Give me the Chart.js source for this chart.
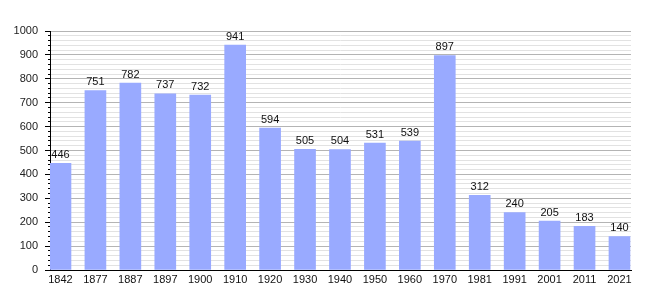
<!DOCTYPE html>
<html>
<head>
<meta charset="utf-8">
<script src="https://cdn.jsdelivr.net/npm/chart.js@4"></script>
<style>
  html, body { margin: 0; padding: 0; background: #fff; }
  #wrap { width: 660px; height: 300px; }
</style>
</head>
<body>
<div id="wrap"><canvas id="pop" width="660" height="300"></canvas></div>
<script>
// population by census year
const years = ['1842','1877','1887','1897','1900','1910','1920','1930','1940','1950','1960','1970','1981','1991','2001','2011','2021'];
const population = [446, 751, 782, 737, 732, 941, 594, 505, 504, 531, 539, 897, 312, 240, 205, 183, 140];
const yMin = 0, yMax = 1000, yStep = 100, yMinorStep = 20;

const FONT = 'Liberation Sans, Arial, sans-serif';

// value labels above each bar
const barValues = {
  id: 'barValues',
  afterDatasetsDraw(chart) {
    const { ctx } = chart;
    const meta = chart.getDatasetMeta(0);
    ctx.save();
    ctx.font = '11px ' + FONT;
    ctx.fillStyle = '#111';
    ctx.textAlign = 'center';
    ctx.textBaseline = 'bottom';
    meta.data.forEach((bar, i) => {
      ctx.fillText(String(population[i]), bar.x, bar.y - 3);
    });
    ctx.restore();
  }
};

new Chart(document.getElementById('pop'), {
  type: 'bar',
  data: {
    datasets: [{
      data: population.map((v, i) => ({ x: i, y: v })),
      backgroundColor: '#99aaff',
      borderWidth: 0,
      barThickness: 21
    }]
  },
  options: {
    responsive: false,
    animation: false,
    layout: { padding: { top: 31, right: 29, left: 0, bottom: 0 } },
    plugins: { legend: { display: false }, tooltip: { enabled: false } },
    scales: {
      x: {
        type: 'linear',
        offset: false,
        min: -0.3,
        max: 16.33,
        grid: { display: false, drawTicks: false },
        border: { display: true, color: '#000', width: 1 },
        afterBuildTicks: s => { s.ticks = years.map((_, i) => ({ value: i })); },
        afterFit: s => { s.height = 30; },
        ticks: {
          autoSkip: false,
          maxRotation: 0,
          padding: 3,
          color: '#111',
          font: { family: FONT, size: 11 },
          callback: v => years[v]
        }
      },
      y: {
        min: yMin,
        max: yMax,
        weight: 1,
        afterFit: s => { s.width = 50; },
        ticks: {
          stepSize: yStep,
          padding: 7,
          color: '#222',
          font: { family: FONT, size: 11 },
          callback: v => String(v)
        },
        grid: { color: '#b4b4b4', tickColor: '#000', tickLength: 5, lineWidth: 1 },
        border: { display: true, color: '#000', width: 1 }
      },
      yMinor: {
        position: 'left',
        min: yMin,
        max: yMax,
        weight: 0,
        afterFit: s => { s.width = 0; },
        ticks: { stepSize: yMinorStep, display: false },
        grid: {
          color: c => (c.tick && c.tick.value % yStep === 0) ? 'rgba(0,0,0,0)' : '#e2e2e2',
          tickColor: '#000',
          tickLength: 2
        },
        border: { display: false }
      }
    }
  },
  plugins: [barValues]
});
</script>
</body>
</html>
